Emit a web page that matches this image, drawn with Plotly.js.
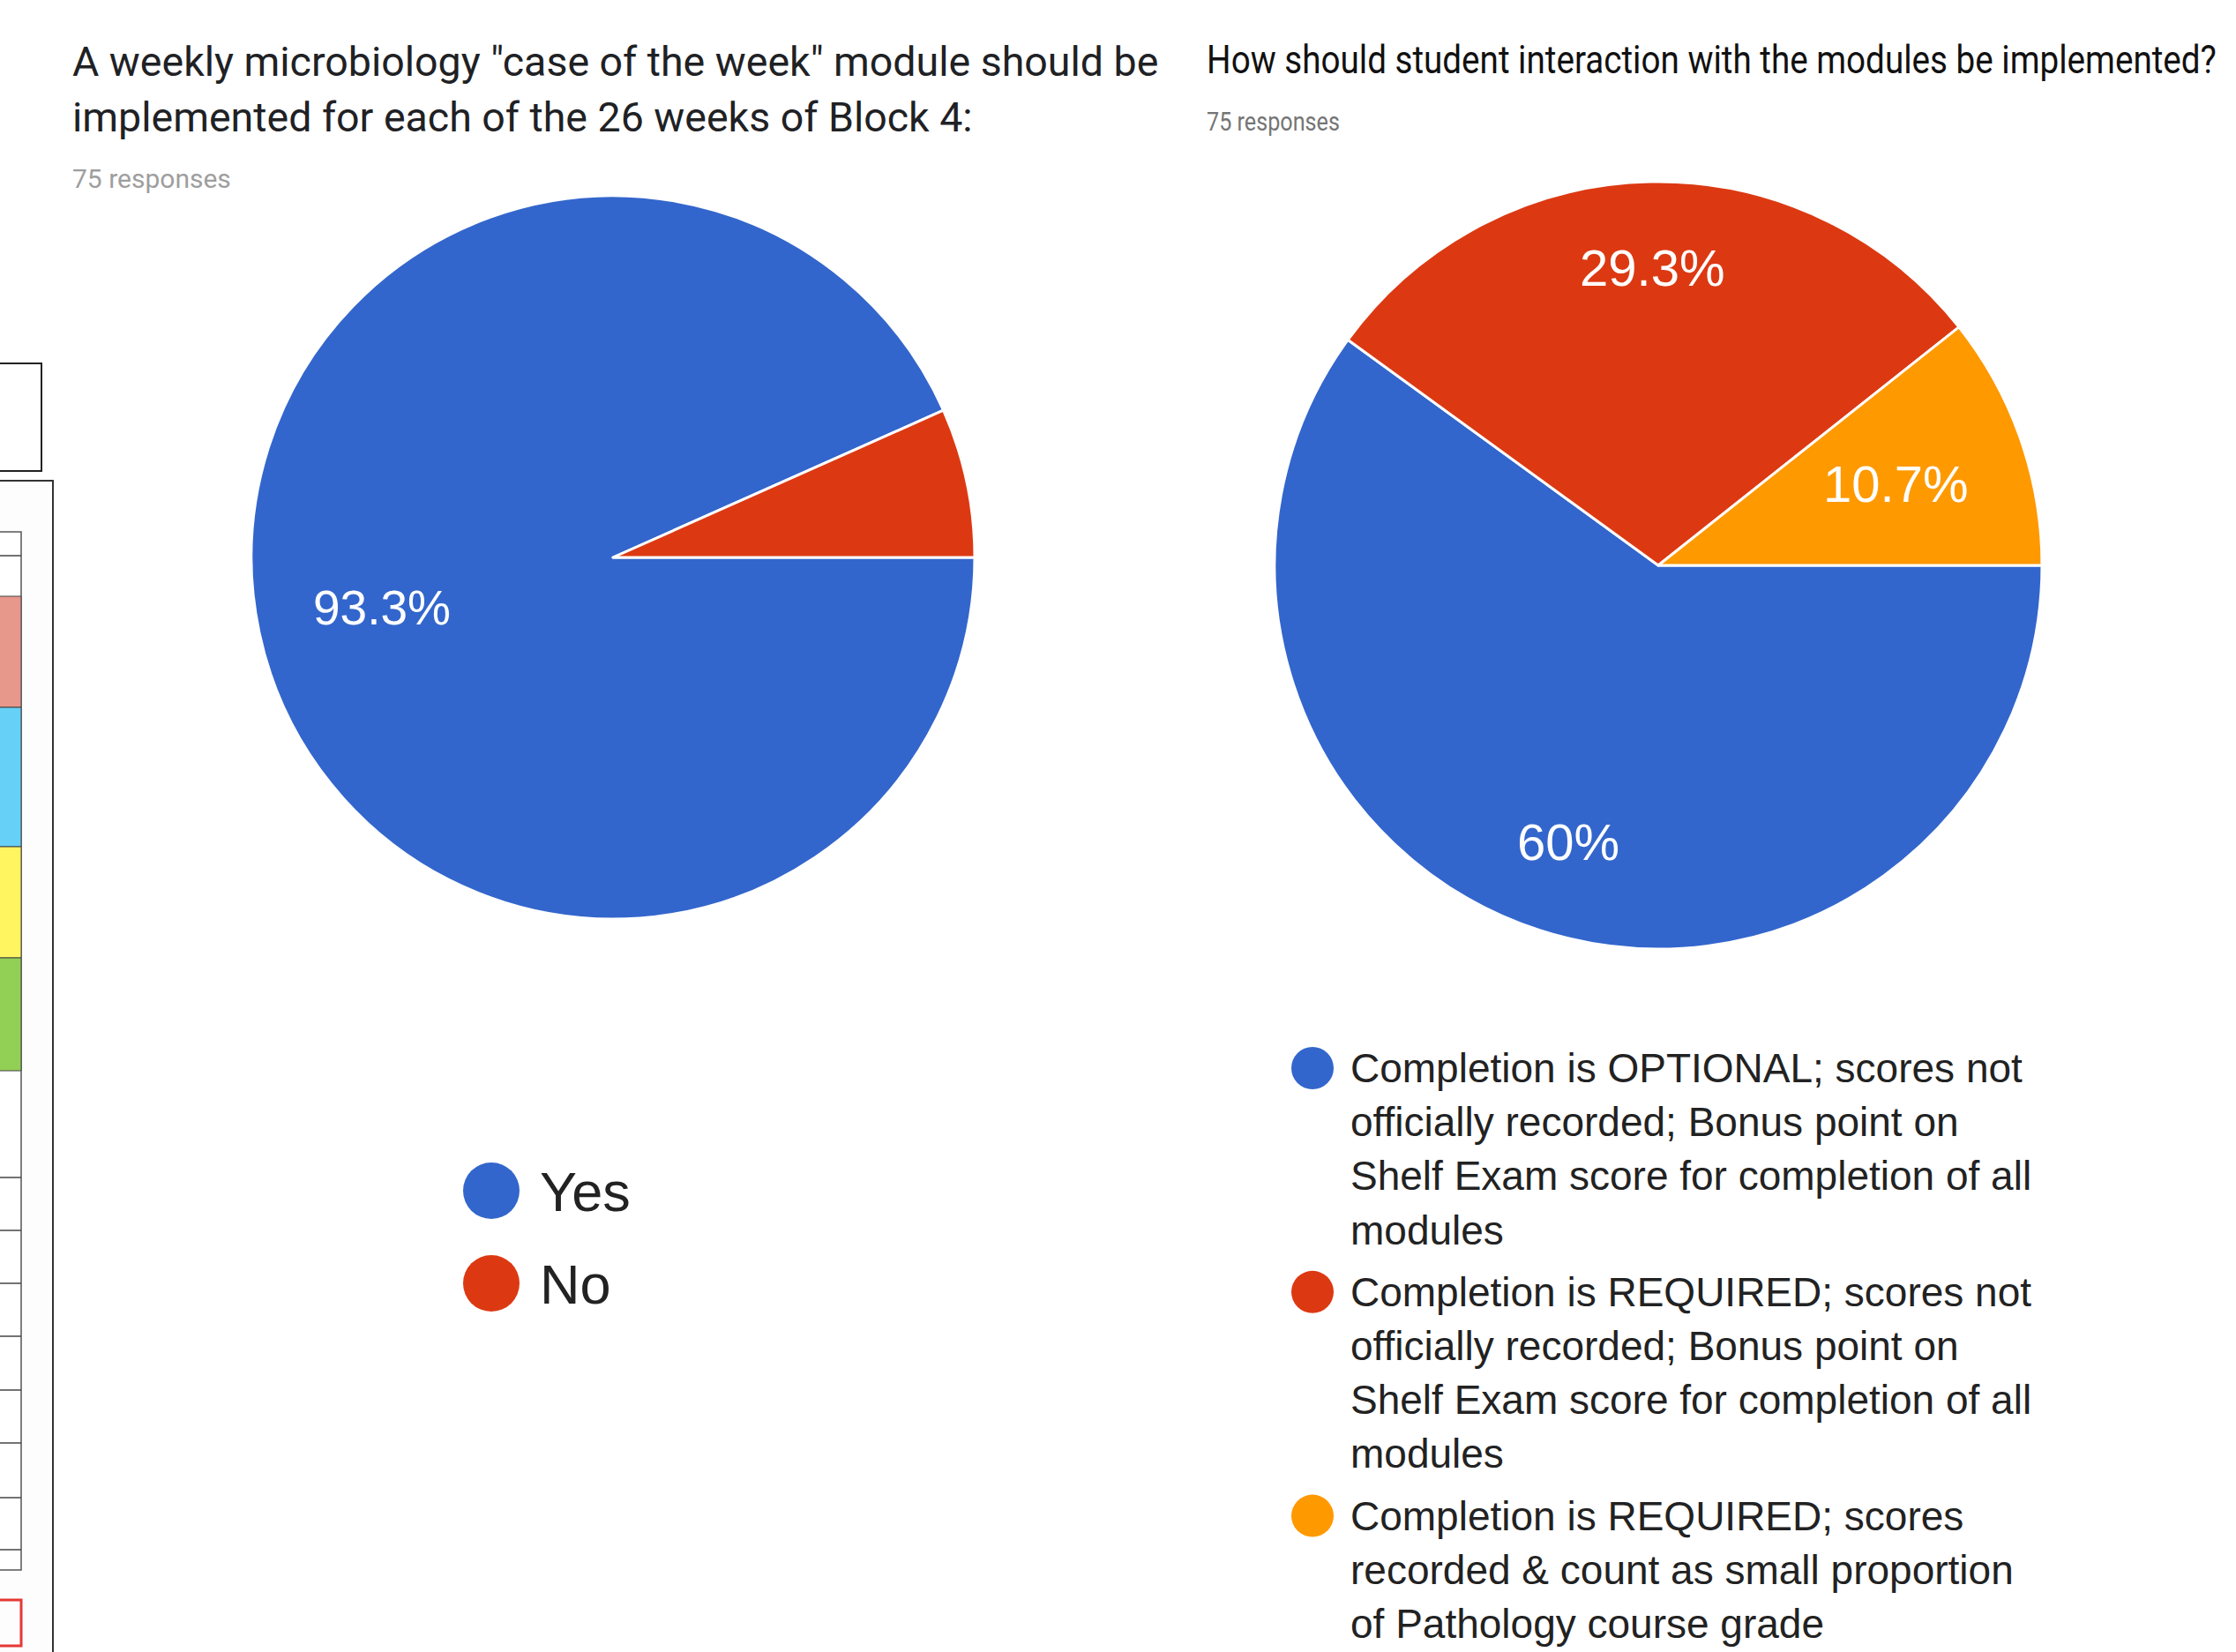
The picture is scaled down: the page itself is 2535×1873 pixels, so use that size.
<!DOCTYPE html>
<html><head><meta charset="utf-8">
<script src="https://cdn.plot.ly/plotly-3.0.1.min.js"></script>
<style>html,body{margin:0;padding:0;background:#fff;overflow:hidden}#chart{width:2535px;height:1873px}</style>
</head><body><div id="chart"></div>
<script>
// ---------------- data ----------------
const q1Title = 'A weekly microbiology "case of the week" module should be implemented for each of the 26 weeks of Block 4:';
const q1Responses = '75 responses';
const q1Labels = ['Yes', 'No'];
const q1Counts = [70, 5];

const q2Title = 'How should student interaction with the modules be implemented?';
const q2Responses = '75 responses';
const q2Labels = [
  'Completion is OPTIONAL; scores not officially recorded; Bonus point on Shelf Exam score for completion of all modules',
  'Completion is REQUIRED; scores not officially recorded; Bonus point on Shelf Exam score for completion of all modules',
  'Completion is REQUIRED; scores recorded & count as small proportion of Pathology course grade'
];
const q2Counts = [45, 22, 8];

const sliceColors = ['#3366cc', '#dc3912', '#ff9900'];

// ---------------- helpers ----------------
const W = 2535, H = 1873;
const px = x => x / W;
const py = y => 1 - y / H;

function wrap(text, maxChars) {
  const words = text.split(' ');
  const lines = [];
  let cur = '';
  words.forEach(w => {
    const t = cur ? cur + ' ' + w : w;
    if (t.length > maxChars && cur) { lines.push(cur); cur = w; }
    else cur = t;
  });
  if (cur) lines.push(cur);
  return lines;
}

function fmtPct(f) { return Number((f * 100).toFixed(1)) + '%'; }

const cvs = document.createElement('canvas').getContext('2d');
function textWidth(t, size, fam) { cvs.font = size + 'px ' + fam; return cvs.measureText(t).width; }

const TITLE_FONT = 'Roboto, "Liberation Sans", Arial, sans-serif';
const CHART_FONT = '"Liberation Sans", Arial, sans-serif';

const annotations = [];
const shapes = [];
const condensed = [];   // annotations drawn in a condensed face (horizontal squeeze to a target width)

function textAnn(text, x, y, size, color, family, xanchor, targetWidth) {
  if (targetWidth) condensed.push({i: annotations.length, w: targetWidth});
  annotations.push({
    text: text, xref: 'paper', yref: 'paper', x: px(x), y: py(y),
    xanchor: xanchor || 'left', yanchor: 'middle', showarrow: false, borderpad: 0,
    font: {size: size, color: color, family: family}
  });
}

// pie slice labels, placed Google-charts style
function pieLabels(counts, cx, cy, r, size) {
  const total = counts.reduce((a, b) => a + b, 0);
  let cum = 0;
  counts.forEach((v, i) => {
    const f = v / total;
    if (f >= 0.08) {
      const t = fmtPct(f);
      const w = textWidth(t, size, '"Liberation Sans"') / 2;
      const h = size * 0.716 / 2;
      const a = -(cum + f / 2) * 2 * Math.PI;
      const c = Math.cos(a), s = Math.sin(a);
      const R = 0.85 * r;
      const b = w * Math.abs(c) + h * Math.abs(s);
      const d = -b + Math.sqrt(b * b - (w * w + h * h - R * R));
      textAnn(t, cx + d * c, cy - d * s + 1, size, '#ffffff', CHART_FONT, 'center');
    }
    cum += f;
  });
}

function circle(cx, cy, r, color) {
  shapes.push({type: 'circle', xref: 'paper', yref: 'paper', xsizemode: 'pixel', ysizemode: 'pixel',
    xanchor: px(cx), yanchor: py(cy), x0: -r, x1: r, y0: -r, y1: r,
    fillcolor: color, line: {width: 0}});
}

// ---------------- geometry ----------------
const pie1 = {cx: 695, cy: 632, r: 410};
const pie2 = {cx: 1880, cy: 641, r: 435};

const traces = [
  {type: 'pie', labels: q1Labels, values: q1Counts, sort: false, direction: 'clockwise', rotation: 90,
   marker: {colors: sliceColors, line: {color: '#ffffff', width: 3}}, textinfo: 'none', hoverinfo: 'label+percent',
   showlegend: false,
   domain: {x: [px(pie1.cx - pie1.r), px(pie1.cx + pie1.r)], y: [py(pie1.cy + pie1.r), py(pie1.cy - pie1.r)]}},
  {type: 'pie', labels: q2Labels, values: q2Counts, sort: false, direction: 'clockwise', rotation: 90,
   marker: {colors: sliceColors, line: {color: '#ffffff', width: 3}}, textinfo: 'none', hoverinfo: 'percent',
   showlegend: false,
   domain: {x: [px(pie2.cx - pie2.r), px(pie2.cx + pie2.r)], y: [py(pie2.cy + pie2.r), py(pie2.cy - pie2.r)]}}
];

// titles
wrap(q1Title, 57).forEach((line, k) => textAnn(line, 81, 86 + k * 63 - 16, 46.5, '#202124', TITLE_FONT));
textAnn(q1Responses, 81, 213 - 10, 30, '#9e9e9e', TITLE_FONT);
textAnn(q2Title, 1367, 83 - 15, 45, '#111111', TITLE_FONT, 'left', 1145);
textAnn(q2Responses, 1367, 148 - 10, 30, '#757575', TITLE_FONT, 'left', 151);

// slice labels
pieLabels(q1Counts, pie1.cx, pie1.cy, pie1.r, 55);
pieLabels(q2Counts, pie2.cx, pie2.cy, pie2.r, 58);

// left legend
q1Labels.forEach((lab, i) => {
  const y = 1350 + i * 105;
  circle(557, y, 32, sliceColors[i]);
  textAnn(lab, 611, y + 1, 63, '#222222', CHART_FONT);
});

// right legend
let ly = 1211;
const pitch = 61.2;
q2Labels.forEach((lab, i) => {
  circle(1488, ly, 24, sliceColors[i]);
  const lines = wrap(lab, 38);
  lines.forEach((line, k) => textAnn(line, 1530, ly + k * pitch, 46, '#222222', CHART_FONT));
  ly += lines.length * pitch + 9;
});

// fragment of neighbouring spreadsheet at the left edge (decoration)
const rectShape = (x0, y0, x1, y1, fill, lc, lw) => shapes.push({type: 'rect', xref: 'paper', yref: 'paper',
  x0: px(x0), x1: px(x1), y0: py(y1), y1: py(y0), fillcolor: fill, line: {color: lc, width: lw}, layer: 'below'});
rectShape(-5, 412, 47, 534, '#ffffff', '#222222', 2);
rectShape(-5, 545, 60, 1880, '#fdfdfd', '#333333', 2);
rectShape(-5, 603, 24, 1780, '#ffffff', '#555555', 1.5);
rectShape(-5, 676, 24, 802, '#e8978b', '#444444', 1);
rectShape(-5, 802, 24, 960, '#66d0f7', '#444444', 1);
rectShape(-5, 960, 24, 1086, '#fff560', '#444444', 1);
rectShape(-5, 1086, 24, 1214, '#92cf55', '#444444', 1);
[630, 1335, 1395, 1455, 1515, 1576, 1636, 1698, 1757].forEach(y =>
  shapes.push({type: 'line', xref: 'paper', yref: 'paper', x0: 0, x1: px(24), y0: py(y), y1: py(y),
    line: {color: '#444444', width: 1.5}, layer: 'below'}));
rectShape(-5, 1814, 24, 1866, 'rgba(0,0,0,0)', '#e53935', 3);

const layout = {
  width: W, height: H, margin: {l: 0, r: 0, t: 0, b: 0},
  paper_bgcolor: '#ffffff', plot_bgcolor: '#ffffff', showlegend: false,
  annotations: annotations, shapes: shapes
};

Plotly.newPlot('chart', traces, layout, {displayModeBar: false, staticPlot: true}).then(gd => {
  condensed.forEach(c => {
    const t = gd.querySelector('.annotation[data-index="' + c.i + '"] text.annotation-text');
    if (!t) return;
    const bb = t.getBBox();
    if (!bb.width) return;
    const s = c.w / bb.width;
    const prev = t.getAttribute('transform') || '';
    t.setAttribute('transform', prev + ' translate(' + bb.x + ' 0) scale(' + s + ' 1) translate(' + (-bb.x) + ' 0)');
  });
});
</script>
</body></html>
